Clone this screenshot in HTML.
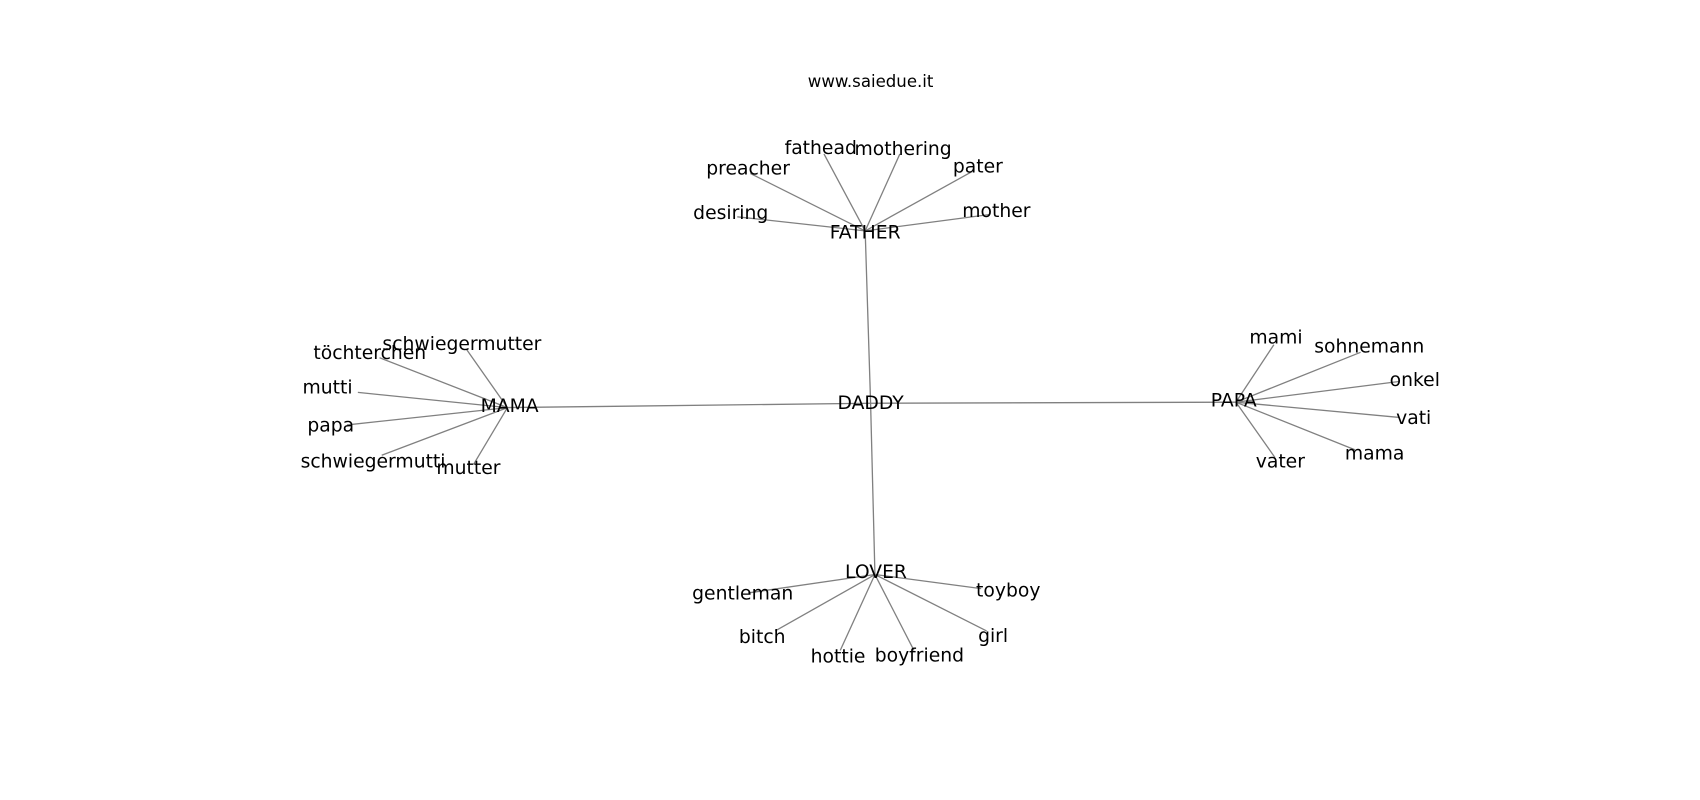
<!DOCTYPE html>
<html><head><meta charset="utf-8"><style>
html,body{margin:0;padding:0;background:#fff;}
svg{display:block;}
text{font-family:"DejaVu Sans","Liberation Sans",sans-serif;fill:#000;}
</style></head><body>
<svg width="1700" height="800" viewBox="0 0 1568 738" xmlns="http://www.w3.org/2000/svg">
<g stroke="#808080" stroke-width="1.2" fill="none">
<line x1="803" y1="372" x2="798" y2="213"/>
<line x1="803" y1="372" x2="468" y2="376"/>
<line x1="803" y1="372" x2="1140" y2="371"/>
<line x1="803" y1="372" x2="807" y2="530"/>
<line x1="798" y1="213" x2="760" y2="142"/>
<line x1="798" y1="213" x2="830" y2="142"/>
<line x1="798" y1="213" x2="692" y2="160"/>
<line x1="798" y1="213" x2="897" y2="158"/>
<line x1="798" y1="213" x2="680" y2="200"/>
<line x1="798" y1="213" x2="912" y2="198"/>
<line x1="468" y1="376" x2="430" y2="322"/>
<line x1="468" y1="376" x2="350" y2="330"/>
<line x1="468" y1="376" x2="330" y2="362"/>
<line x1="468" y1="376" x2="320" y2="392"/>
<line x1="468" y1="376" x2="352" y2="420"/>
<line x1="468" y1="376" x2="437" y2="428"/>
<line x1="1140" y1="371" x2="1175" y2="318"/>
<line x1="1140" y1="371" x2="1255" y2="325"/>
<line x1="1140" y1="371" x2="1290" y2="352"/>
<line x1="1140" y1="371" x2="1290" y2="385"/>
<line x1="1140" y1="371" x2="1250" y2="415"/>
<line x1="1140" y1="371" x2="1176" y2="422"/>
<line x1="807" y1="530" x2="690" y2="547"/>
<line x1="807" y1="530" x2="905" y2="543"/>
<line x1="807" y1="530" x2="715" y2="582"/>
<line x1="807" y1="530" x2="775" y2="600"/>
<line x1="807" y1="530" x2="843" y2="600"/>
<line x1="807" y1="530" x2="910" y2="582"/>
</g>
<g font-size="17.3" text-anchor="middle" dominant-baseline="central">
<text x="803" y="372">DADDY</text>
<text x="798" y="215">FATHER</text>
<text x="470" y="375">MAMA</text>
<text x="1138" y="370">PAPA</text>
<text x="808" y="528">LOVER</text>
<text x="757" y="137">fathead</text>
<text x="833" y="138">mothering</text>
<text x="690" y="156">preacher</text>
<text x="902" y="154">pater</text>
<text x="674" y="197">desiring</text>
<text x="919" y="195">mother</text>
<text x="426" y="318">schwiegermutter</text>
<text x="341" y="326">töchterchen</text>
<text x="302" y="358">mutti</text>
<text x="305" y="393">papa</text>
<text x="344" y="426">schwiegermutti</text>
<text x="432" y="432">mutter</text>
<text x="1177" y="312">mami</text>
<text x="1263" y="320">sohnemann</text>
<text x="1305" y="351">onkel</text>
<text x="1304" y="386">vati</text>
<text x="1268" y="419">mama</text>
<text x="1181" y="426">vater</text>
<text x="685" y="548">gentleman</text>
<text x="930" y="545">toyboy</text>
<text x="703" y="588">bitch</text>
<text x="773" y="606">hottie</text>
<text x="848" y="605">boyfriend</text>
<text x="916" y="587">girl</text>
</g>
<text x="803" y="75" font-size="15.3" text-anchor="middle" dominant-baseline="central">www.saiedue.it</text>
</svg>
</body></html>
